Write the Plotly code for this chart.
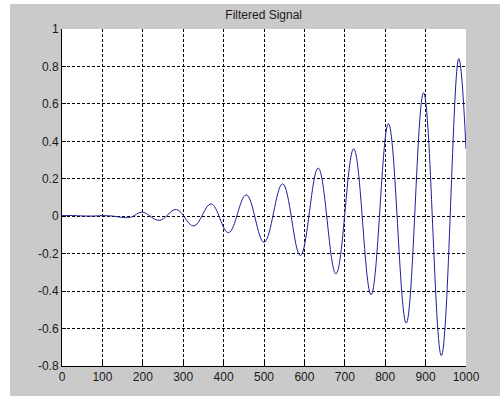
import plotly.graph_objects as go

# Key points (near-flat start, then each peak / trough)
sample_x = [0, 20, 45, 75, 100, 125, 152, 172,
            198, 241, 283, 326, 369, 412, 456, 500, 546, 590,
            634, 678, 722, 765, 808, 852, 895, 939, 982, 1000]
signal_y = [0.003, 0.004, 0.002, 0.001, 0.003, 0.001, -0.007, -0.004,
            0.022, -0.022, 0.036, -0.052, 0.066, -0.088, 0.114, -0.139, 0.173, -0.210,
            0.257, -0.308, 0.360, -0.419, 0.494, -0.571, 0.660, -0.745, 0.842, 0.36]

x_tick_vals = [0, 100, 200, 300, 400, 500, 600, 700, 800, 900, 1000]
x_tick_text = ["0", "100", "200", "300", "400", "500", "600", "700", "800", "900", "1000"]
y_tick_vals = [-0.8, -0.6, -0.4, -0.2, 0, 0.2, 0.4, 0.6, 0.8, 1]
y_tick_text = ["-0.8", "-0.6", "-0.4", "-0.2", "0", "0.2", "0.4", "0.6", "0.8", "1"]

title_text = "Filtered Signal"

FONT = "Liberation Sans, Arial, sans-serif"
GRAY = "#cacaca"

fig = go.Figure()
fig.add_trace(go.Scatter(
    x=sample_x, y=signal_y, mode="lines",
    line=dict(color="#1e1e9a", width=1, shape="spline", smoothing=1.1),
    hoverinfo="skip", showlegend=False,
))

axis_common = dict(
    showgrid=True, gridcolor="#000000", gridwidth=1, griddash="3px,2px",
    zeroline=False, showline=True, linecolor="#000000", linewidth=1,
    ticks="inside", ticklen=4, tickcolor="#000000",
    tickfont=dict(family=FONT, size=12, color="#1a1a1a"),
)

fig.update_xaxes(range=[0, 1000], tickvals=x_tick_vals, ticktext=x_tick_text, **axis_common)
fig.update_yaxes(range=[-0.8, 1], tickvals=y_tick_vals, ticktext=y_tick_text,
                 ticklabelstandoff=0, **axis_common)

L, R, T, B = 62, 34, 29, 32
W, H = 500, 398
pw, ph = W - L - R, H - T - B

def px_to_paper_x(px):
    return (px - L) / pw

def px_to_paper_y(py):
    return (H - B - py) / ph

fig.update_layout(
    width=W, height=H,
    margin=dict(l=L, r=R, t=T, b=B),
    paper_bgcolor="white", plot_bgcolor="white",
    title=dict(text=title_text, x=px_to_paper_x(263.7), xref="paper", xanchor="center",
               y=1 - 15 / H, yref="container", yanchor="middle",
               font=dict(family=FONT, size=12, color="#1a1a1a")),
    shapes=[
        dict(type="rect", xref="paper", yref="paper", layer="below",
             x0=px_to_paper_x(10), x1=px_to_paper_x(520),
             y0=px_to_paper_y(396), y1=px_to_paper_y(4),
             fillcolor=GRAY, line=dict(width=0)),
        dict(type="rect", xref="x domain", yref="y domain", layer="below",
             x0=0, x1=1, y0=0, y1=1, fillcolor="white", line=dict(width=0)),
    ],
)

fig.write_html(
    "out.html",
    config={"displayModeBar": False},
    post_script="document.body.style.margin='0';document.body.style.overflow='hidden';",
)
